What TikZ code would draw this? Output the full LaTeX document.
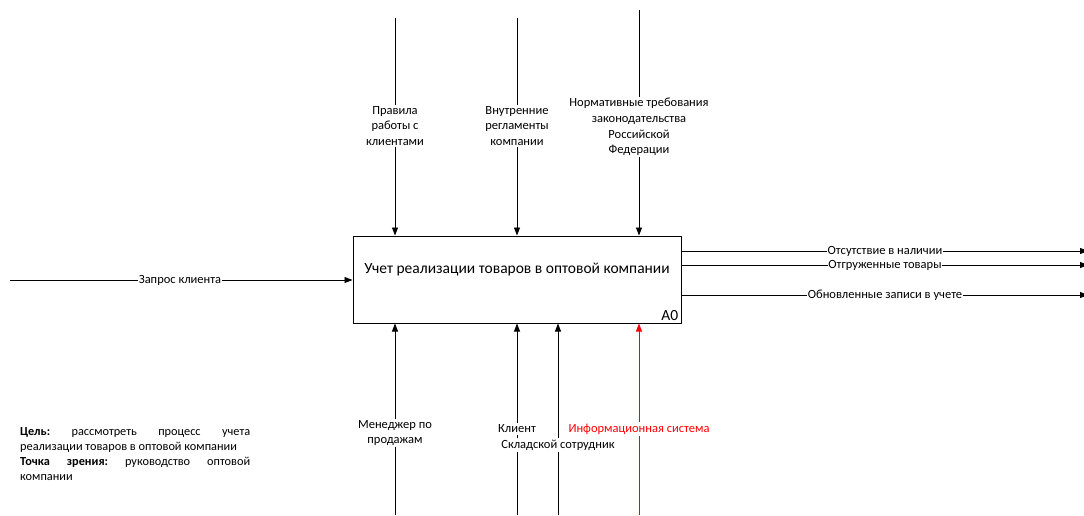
\documentclass[tikz,border=0pt]{standalone}
\usepackage{fontspec}
\setmainfont{Carlito}
\usetikzlibrary{arrows.meta}
\begin{document}
\begin{tikzpicture}[x=1pt,y=-1pt,
  conn/.style={line width=0.8pt,-{Triangle[length=8pt,width=6pt]}},
  lbl/.style={fill=white,inner sep=1.5pt,align=center,font=\fontsize{12.5}{15.8}\selectfont},
  box/.style={draw,line width=1pt,fill=white,minimum width=328pt,minimum height=87pt,inner sep=0pt}]
\useasboundingbox (0,0) rectangle (1084,515);
\node[box] (A) at (517,279.5) {};
\node[font=\fontsize{15.5}{18}\selectfont] (T) at (517,270) {Учет реализации товаров в оптовой компании};
\node[font=\fontsize{15.5}{18}\selectfont,anchor=south east,inner sep=3pt] (N) at (A.south east) {A0};
% top controls
\coordinate (c1) at (395,18);
\coordinate (c2) at (517,18);
\coordinate (c3) at (639,10);
\draw[conn] (c1) -- (c1 |- A.north);
\draw[conn] (c2) -- (c2 |- A.north);
\draw[conn] (c3) -- (c3 |- A.north);
\node[lbl] (l1) at (395,126) {Правила\\работы с\\клиентами};
\node[lbl] (l2) at (517,126) {Внутренние\\регламенты\\компании};
\node[lbl] (l3) at (639,127) {Нормативные требования\\законодательства\\Российской\\Федерации};
% input
\coordinate (i1) at (10,280);
\draw[conn] (i1) -- (i1 -| A.west);
\node[lbl,inner sep=0.5pt] (li) at (180,280) {Запрос клиента};
% outputs
\coordinate (o1) at (1088,251);
\coordinate (o2) at (1088,265);
\coordinate (o3) at (1088,295);
\draw[conn] (o1 -| A.east) -- (o1);
\draw[conn] (o2 -| A.east) -- (o2);
\draw[conn] (o3 -| A.east) -- (o3);
\node[lbl,inner sep=0.5pt] (lo1) at (885,251) {Отсутствие в наличии};
\node[lbl,inner sep=0.5pt] (lo2) at (885,265) {Отгруженные товары};
\node[lbl,inner sep=0.5pt] (lo3) at (885,295) {Обновленные записи в учете};
% mechanisms
\coordinate (m1) at (395,515);
\coordinate (m2) at (517,515);
\coordinate (m3) at (558,515);
\coordinate (m4) at (639,515);
\draw[conn] (m1) -- (m1 |- A.south);
\draw[conn] (m2) -- (m2 |- A.south);
\draw[conn] (m3) -- (m3 |- A.south);
\draw[conn,red] (m4) -- (m4 |- A.south);
\node[lbl] (lm1) at (395,433) {Менеджер по\\продажам};
\node[lbl] (lm2) at (517,429) {Клиент};
\node[lbl] (lm3) at (558,445) {Складской сотрудник};
\node[lbl,text=red] (lm4) at (639,429) {Информационная система};
% purpose
\node[anchor=north west,inner sep=0pt,align=left,font=\fontsize{12.3}{15}\selectfont] (P) at (20,427)
{\hbox to 230pt{\textbf{Цель:}\hfill рассмотреть\hfill процесс\hfill учета}\\
реализации товаров в оптовой компании\\
\hbox to 230pt{\textbf{Точка}\hfill\textbf{зрения:}\hfill руководство\hfill оптовой}\\
компании};
\end{tikzpicture}
\end{document}
